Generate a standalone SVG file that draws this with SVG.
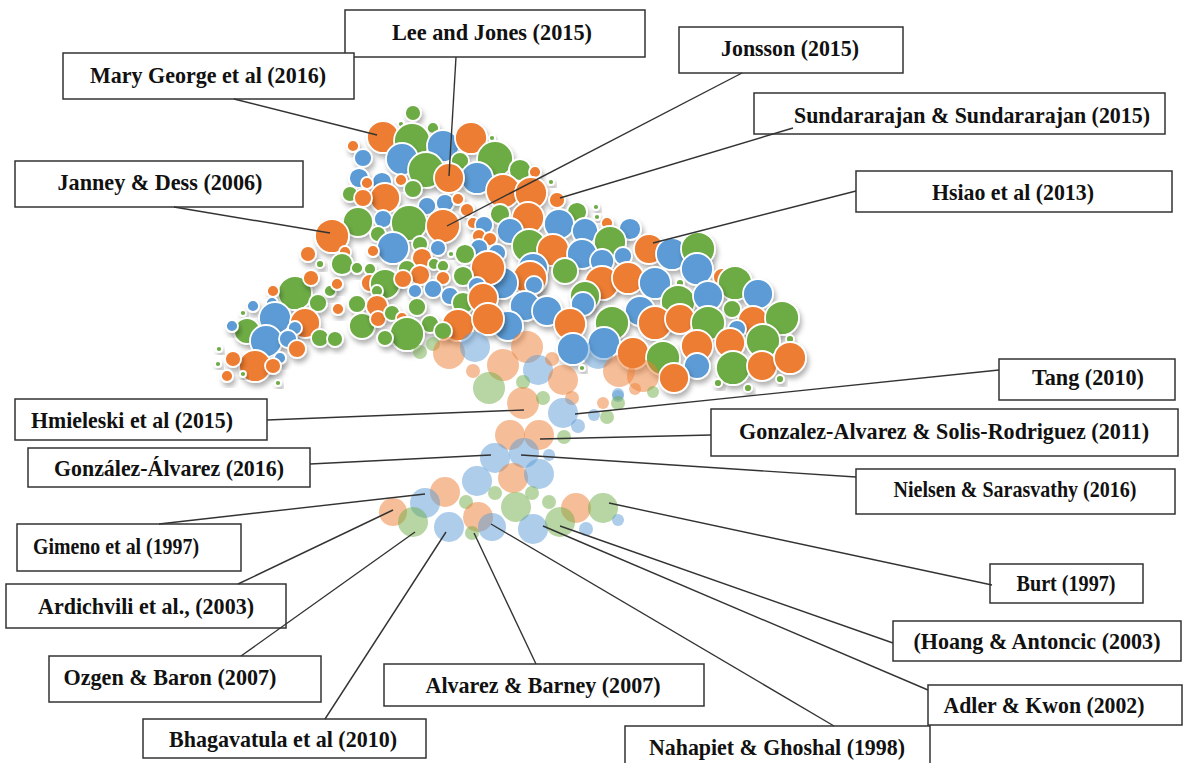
<svg xmlns="http://www.w3.org/2000/svg" width="1187" height="763" viewBox="0 0 1187 763">
<defs>
<filter id="sh" x="-40%" y="-40%" width="190%" height="190%">
<feDropShadow dx="2" dy="4" stdDeviation="2.5" flood-color="#000" flood-opacity="0.3"/>
</filter>
<style>
.o{fill:#ED7D31;stroke:#fff;stroke-width:1.8;filter:url(#sh)}
.b{fill:#5B9BD5;stroke:#fff;stroke-width:1.8;filter:url(#sh)}
.g{fill:#6DAC45;stroke:#fff;stroke-width:1.8;filter:url(#sh)}
.lo{fill:#ED7D31;fill-opacity:0.5}
.lb{fill:#5B9BD5;fill-opacity:0.5}
.lg{fill:#70AD47;fill-opacity:0.5}
.box{fill:#fff;stroke:#333;stroke-width:1.5}
.lbl{font-family:"Liberation Serif","Times New Roman",serif;font-weight:bold;font-size:23px;fill:#111;text-anchor:middle}
.con line{stroke:#333;stroke-width:1.4}
</style>
</defs>
<rect width="1187" height="763" fill="#fff"/>
<g id="bubbles">
<g id="dark">
<circle class="g" cx="413" cy="113" r="8"/>
<circle class="g" cx="401" cy="124" r="3"/>
<circle class="g" cx="433" cy="128" r="6"/>
<circle class="o" cx="383" cy="137" r="16"/>
<circle class="g" cx="412" cy="141" r="18"/>
<circle class="b" cx="443" cy="146" r="16"/>
<circle class="o" cx="471" cy="138" r="16"/>
<circle class="g" cx="492" cy="138" r="3"/>
<circle class="o" cx="353" cy="146" r="6"/>
<circle class="g" cx="495" cy="159" r="18"/>
<circle class="b" cx="402" cy="159" r="16"/>
<circle class="b" cx="363" cy="158" r="9"/>
<circle class="g" cx="460" cy="161" r="9"/>
<circle class="g" cx="426" cy="170" r="18"/>
<circle class="b" cx="477" cy="178" r="16"/>
<circle class="o" cx="449" cy="178" r="15"/>
<circle class="g" cx="520" cy="170" r="11"/>
<circle class="o" cx="535" cy="172" r="6"/>
<circle class="b" cx="359" cy="178" r="10"/>
<circle class="b" cx="382" cy="182" r="10"/>
<circle class="o" cx="367" cy="183" r="6"/>
<circle class="o" cx="401" cy="180" r="6"/>
<circle class="g" cx="350" cy="194" r="8"/>
<circle class="o" cx="385" cy="198" r="15"/>
<circle class="o" cx="363" cy="198" r="9"/>
<circle class="g" cx="413" cy="189" r="9"/>
<circle class="o" cx="503" cy="191" r="17"/>
<circle class="o" cx="531" cy="193" r="16"/>
<circle class="g" cx="551" cy="182" r="3"/>
<circle class="o" cx="557" cy="200" r="8"/>
<circle class="g" cx="577" cy="212" r="10"/>
<circle class="g" cx="596" cy="207" r="3"/>
<circle class="g" cx="597" cy="217" r="3"/>
<circle class="o" cx="607" cy="223" r="6"/>
<circle class="b" cx="427" cy="206" r="9"/>
<circle class="b" cx="445" cy="203" r="9"/>
<circle class="o" cx="458" cy="199" r="6"/>
<circle class="g" cx="500" cy="214" r="10"/>
<circle class="g" cx="358" cy="222" r="15"/>
<circle class="b" cx="383" cy="219" r="9"/>
<circle class="g" cx="409" cy="223" r="18"/>
<circle class="o" cx="467" cy="210" r="7"/>
<circle class="o" cx="528" cy="218" r="16"/>
<circle class="b" cx="559" cy="224" r="15"/>
<circle class="b" cx="585" cy="231" r="13"/>
<circle class="b" cx="630" cy="229" r="11"/>
<circle class="b" cx="510" cy="231" r="13"/>
<circle class="o" cx="443" cy="226" r="17"/>
<circle class="o" cx="473" cy="223" r="6"/>
<circle class="b" cx="484" cy="225" r="9"/>
<circle class="o" cx="479" cy="236" r="7"/>
<circle class="o" cx="490" cy="239" r="7"/>
<circle class="b" cx="479" cy="248" r="9"/>
<circle class="b" cx="497" cy="253" r="9"/>
<circle class="g" cx="610" cy="242" r="16"/>
<circle class="o" cx="332" cy="236" r="17"/>
<circle class="g" cx="378" cy="234" r="8"/>
<circle class="b" cx="393" cy="248" r="16"/>
<circle class="g" cx="420" cy="244" r="8"/>
<circle class="o" cx="308" cy="254" r="8"/>
<circle class="o" cx="345" cy="252" r="6"/>
<circle class="o" cx="373" cy="251" r="6"/>
<circle class="g" cx="342" cy="264" r="11"/>
<circle class="b" cx="438" cy="248" r="8"/>
<circle class="o" cx="422" cy="258" r="10"/>
<circle class="g" cx="451" cy="254" r="3"/>
<circle class="g" cx="465" cy="254" r="10"/>
<circle class="g" cx="529" cy="246" r="17"/>
<circle class="o" cx="553" cy="250" r="16"/>
<circle class="b" cx="582" cy="254" r="15"/>
<circle class="b" cx="602" cy="261" r="12"/>
<circle class="b" cx="623" cy="256" r="9"/>
<circle class="o" cx="649" cy="249" r="15"/>
<circle class="b" cx="672" cy="254" r="16"/>
<circle class="g" cx="698" cy="249" r="17"/>
<circle class="b" cx="533" cy="268" r="15"/>
<circle class="g" cx="565" cy="271" r="13"/>
<circle class="o" cx="530" cy="278" r="17"/>
<circle class="b" cx="502" cy="283" r="16"/>
<circle class="o" cx="488" cy="268" r="17"/>
<circle class="b" cx="534" cy="285" r="9"/>
<circle class="g" cx="320" cy="264" r="4"/>
<circle class="g" cx="357" cy="268" r="6"/>
<circle class="g" cx="370" cy="269" r="6"/>
<circle class="o" cx="370" cy="283" r="9"/>
<circle class="g" cx="385" cy="284" r="15"/>
<circle class="g" cx="407" cy="269" r="9"/>
<circle class="o" cx="420" cy="275" r="10"/>
<circle class="g" cx="434" cy="264" r="6"/>
<circle class="g" cx="443" cy="266" r="6"/>
<circle class="o" cx="443" cy="278" r="7"/>
<circle class="g" cx="463" cy="276" r="10"/>
<circle class="o" cx="403" cy="279" r="9"/>
<circle class="b" cx="415" cy="291" r="7"/>
<circle class="b" cx="433" cy="289" r="9"/>
<circle class="b" cx="450" cy="296" r="9"/>
<circle class="b" cx="477" cy="286" r="9"/>
<circle class="g" cx="463" cy="303" r="11"/>
<circle class="o" cx="483" cy="298" r="15"/>
<circle class="o" cx="602" cy="283" r="17"/>
<circle class="o" cx="628" cy="278" r="16"/>
<circle class="b" cx="655" cy="283" r="16"/>
<circle class="b" cx="697" cy="269" r="16"/>
<circle class="o" cx="722" cy="277" r="9"/>
<circle class="g" cx="735" cy="283" r="17"/>
<circle class="b" cx="758" cy="294" r="15"/>
<circle class="g" cx="680" cy="283" r="4"/>
<circle class="g" cx="585" cy="296" r="15"/>
<circle class="b" cx="583" cy="304" r="12"/>
<circle class="g" cx="678" cy="302" r="17"/>
<circle class="b" cx="708" cy="296" r="15"/>
<circle class="g" cx="732" cy="309" r="9"/>
<circle class="b" cx="640" cy="311" r="15"/>
<circle class="b" cx="525" cy="306" r="15"/>
<circle class="b" cx="547" cy="311" r="15"/>
<circle class="g" cx="612" cy="323" r="17"/>
<circle class="o" cx="655" cy="323" r="17"/>
<circle class="o" cx="680" cy="319" r="15"/>
<circle class="g" cx="708" cy="323" r="17"/>
<circle class="o" cx="753" cy="321" r="15"/>
<circle class="g" cx="782" cy="318" r="17"/>
<circle class="b" cx="737" cy="329" r="9"/>
<circle class="o" cx="570" cy="324" r="16"/>
<circle class="b" cx="508" cy="326" r="15"/>
<circle class="o" cx="458" cy="325" r="16"/>
<circle class="g" cx="295" cy="293" r="17"/>
<circle class="o" cx="311" cy="278" r="8"/>
<circle class="o" cx="273" cy="291" r="6"/>
<circle class="b" cx="272" cy="303" r="6"/>
<circle class="g" cx="318" cy="303" r="9"/>
<circle class="g" cx="330" cy="291" r="6"/>
<circle class="o" cx="337" cy="284" r="6"/>
<circle class="o" cx="338" cy="309" r="6"/>
<circle class="g" cx="357" cy="304" r="9"/>
<circle class="g" cx="362" cy="326" r="13"/>
<circle class="g" cx="377" cy="291" r="6"/>
<circle class="o" cx="377" cy="306" r="11"/>
<circle class="o" cx="378" cy="319" r="8"/>
<circle class="g" cx="392" cy="313" r="8"/>
<circle class="o" cx="402" cy="318" r="6"/>
<circle class="g" cx="417" cy="307" r="9"/>
<circle class="g" cx="430" cy="324" r="9"/>
<circle class="g" cx="443" cy="331" r="9"/>
<circle class="o" cx="488" cy="319" r="16"/>
<circle class="g" cx="407" cy="334" r="17"/>
<circle class="b" cx="604" cy="343" r="16"/>
<circle class="b" cx="573" cy="349" r="16"/>
<circle class="o" cx="633" cy="353" r="16"/>
<circle class="g" cx="663" cy="358" r="17"/>
<circle class="o" cx="697" cy="346" r="16"/>
<circle class="o" cx="730" cy="343" r="15"/>
<circle class="g" cx="763" cy="341" r="17"/>
<circle class="g" cx="790" cy="339" r="4"/>
<circle class="b" cx="697" cy="366" r="13"/>
<circle class="o" cx="674" cy="378" r="15"/>
<circle class="g" cx="733" cy="368" r="17"/>
<circle class="o" cx="762" cy="366" r="15"/>
<circle class="o" cx="790" cy="358" r="16"/>
<circle class="g" cx="718" cy="383" r="4"/>
<circle class="g" cx="748" cy="388" r="4"/>
<circle class="g" cx="780" cy="379" r="4"/>
<circle class="g" cx="582" cy="368" r="3"/>
<circle class="g" cx="243" cy="313" r="3"/>
<circle class="b" cx="253" cy="306" r="6"/>
<circle class="b" cx="275" cy="318" r="16"/>
<circle class="g" cx="247" cy="331" r="13"/>
<circle class="b" cx="232" cy="326" r="6"/>
<circle class="o" cx="305" cy="323" r="15"/>
<circle class="b" cx="295" cy="328" r="7"/>
<circle class="b" cx="266" cy="341" r="16"/>
<circle class="b" cx="288" cy="339" r="9"/>
<circle class="g" cx="320" cy="338" r="9"/>
<circle class="g" cx="335" cy="339" r="8"/>
<circle class="g" cx="385" cy="338" r="8"/>
<circle class="o" cx="297" cy="349" r="9"/>
<circle class="b" cx="280" cy="358" r="6"/>
<circle class="o" cx="255" cy="366" r="16"/>
<circle class="o" cx="233" cy="359" r="8"/>
<circle class="o" cx="273" cy="366" r="8"/>
<circle class="o" cx="227" cy="376" r="6"/>
<circle class="g" cx="219" cy="349" r="3"/>
<circle class="g" cx="218" cy="364" r="3"/>
<circle class="g" cx="243" cy="374" r="3"/>
<circle class="g" cx="278" cy="383" r="3"/>
</g>
<g id="light">
<circle class="lg" cx="420" cy="352" r="7"/>
<circle class="lg" cx="433" cy="344" r="7"/>
<circle class="lo" cx="449" cy="353" r="16"/>
<circle class="lb" cx="475" cy="347" r="15"/>
<circle class="lo" cx="473" cy="371" r="7"/>
<circle class="lo" cx="503" cy="365" r="16"/>
<circle class="lo" cx="527" cy="347" r="16"/>
<circle class="lb" cx="538" cy="370" r="15"/>
<circle class="lo" cx="552" cy="359" r="7"/>
<circle class="lo" cx="563" cy="380" r="15"/>
<circle class="lb" cx="598" cy="354" r="15"/>
<circle class="lo" cx="619" cy="371" r="16"/>
<circle class="lo" cx="643" cy="376" r="16"/>
<circle class="lo" cx="635" cy="389" r="6"/>
<circle class="lb" cx="618" cy="394" r="6"/>
<circle class="lg" cx="653" cy="392" r="6"/>
<circle class="lg" cx="489" cy="388" r="16"/>
<circle class="lg" cx="523" cy="382" r="7"/>
<circle class="lo" cx="523" cy="403" r="16"/>
<circle class="lg" cx="543" cy="398" r="7"/>
<circle class="lo" cx="572" cy="398" r="7"/>
<circle class="lb" cx="563" cy="413" r="15"/>
<circle class="lb" cx="578" cy="426" r="7"/>
<circle class="lb" cx="594" cy="415" r="6"/>
<circle class="lg" cx="607" cy="417" r="7"/>
<circle class="lo" cx="603" cy="403" r="6"/>
<circle class="lb" cx="618" cy="396" r="6"/>
<circle class="lg" cx="618" cy="403" r="7"/>
<circle class="lo" cx="510" cy="435" r="15"/>
<circle class="lo" cx="539" cy="435" r="15"/>
<circle class="lg" cx="564" cy="437" r="7"/>
<circle class="lb" cx="495" cy="458" r="15"/>
<circle class="lb" cx="524" cy="453" r="15"/>
<circle class="lb" cx="549" cy="455" r="6"/>
<circle class="lo" cx="513" cy="478" r="15"/>
<circle class="lb" cx="539" cy="474" r="15"/>
<circle class="lb" cx="477" cy="481" r="15"/>
<circle class="lo" cx="445" cy="492" r="15"/>
<circle class="lb" cx="425" cy="503" r="15"/>
<circle class="lo" cx="393" cy="512" r="14"/>
<circle class="lg" cx="413" cy="522" r="15"/>
<circle class="lg" cx="466" cy="502" r="7"/>
<circle class="lg" cx="495" cy="493" r="7"/>
<circle class="lg" cx="516" cy="507" r="15"/>
<circle class="lg" cx="532" cy="493" r="7"/>
<circle class="lg" cx="549" cy="502" r="7"/>
<circle class="lo" cx="576" cy="508" r="15"/>
<circle class="lg" cx="603" cy="508" r="15"/>
<circle class="lb" cx="618" cy="520" r="6"/>
<circle class="lb" cx="449" cy="527" r="15"/>
<circle class="lo" cx="478" cy="517" r="15"/>
<circle class="lg" cx="472" cy="533" r="7"/>
<circle class="lb" cx="492" cy="527" r="14"/>
<circle class="lb" cx="533" cy="529" r="15"/>
<circle class="lg" cx="560" cy="522" r="15"/>
<circle class="lb" cx="586" cy="529" r="7"/>
</g>
</g>
<g id="n-lee"><rect class="box" x="345" y="10" width="300" height="47"/><text class="lbl" x="492" y="40" textLength="200" lengthAdjust="spacingAndGlyphs">Lee and Jones (2015)</text></g>
<g id="n-mary"><rect class="box" x="63" y="53" width="291" height="46"/><text class="lbl" x="208" y="83" textLength="236" lengthAdjust="spacingAndGlyphs">Mary George et al (2016)</text></g>
<g id="n-jonsson"><rect class="box" x="679" y="27" width="224" height="46"/><text class="lbl" x="790" y="56" textLength="138" lengthAdjust="spacingAndGlyphs">Jonsson (2015)</text></g>
<g id="n-sund"><rect class="box" x="754" y="93" width="411" height="41"/><text class="lbl" x="972" y="123" textLength="356" lengthAdjust="spacingAndGlyphs">Sundararajan &amp; Sundararajan (2015)</text></g>
<g id="n-hsiao"><rect class="box" x="856" y="171" width="316" height="41"/><text class="lbl" x="1013" y="200" textLength="162" lengthAdjust="spacingAndGlyphs">Hsiao et al (2013)</text></g>
<g id="n-janney"><rect class="box" x="15" y="161" width="288" height="46"/><text class="lbl" x="160" y="190" textLength="205" lengthAdjust="spacingAndGlyphs">Janney &amp; Dess (2006)</text></g>
<g id="n-tang"><rect class="box" x="999" y="359" width="176" height="41"/><text class="lbl" x="1088" y="385" textLength="112" lengthAdjust="spacingAndGlyphs">Tang (2010)</text></g>
<g id="n-hmieleski"><rect class="box" x="15" y="399" width="252" height="41"/><text class="lbl" x="132" y="428" textLength="202" lengthAdjust="spacingAndGlyphs">Hmieleski et al (2015)</text></g>
<g id="n-gas"><rect class="box" x="711" y="409" width="467" height="47"/><text class="lbl" x="944" y="439" textLength="410" lengthAdjust="spacingAndGlyphs">Gonzalez-Alvarez &amp; Solis-Rodriguez (2011)</text></g>
<g id="n-ga2016"><rect class="box" x="28" y="448" width="282" height="39"/><text class="lbl" x="169" y="476" textLength="230" lengthAdjust="spacingAndGlyphs">González-Álvarez (2016)</text></g>
<g id="n-nielsen"><rect class="box" x="856" y="469" width="319" height="45"/><text class="lbl" x="1015" y="497" textLength="243" lengthAdjust="spacingAndGlyphs">Nielsen &amp; Sarasvathy (2016)</text></g>
<g id="n-gimeno"><rect class="box" x="17" y="524" width="224" height="47"/><text class="lbl" x="116" y="554" textLength="166" lengthAdjust="spacingAndGlyphs">Gimeno et al (1997)</text></g>
<g id="n-burt"><rect class="box" x="990" y="564" width="153" height="39"/><text class="lbl" x="1066" y="591" textLength="99" lengthAdjust="spacingAndGlyphs">Burt (1997)</text></g>
<g id="n-ardichvili"><rect class="box" x="6" y="584" width="280" height="44"/><text class="lbl" x="146" y="614" textLength="216" lengthAdjust="spacingAndGlyphs">Ardichvili et al., (2003)</text></g>
<g id="n-hoang"><rect class="box" x="893" y="621" width="288" height="40"/><text class="lbl" x="1037" y="649" textLength="247" lengthAdjust="spacingAndGlyphs">(Hoang &amp; Antoncic (2003)</text></g>
<g id="n-ozgen"><rect class="box" x="49" y="656" width="272" height="46"/><text class="lbl" x="170" y="685" textLength="213" lengthAdjust="spacingAndGlyphs">Ozgen &amp; Baron (2007)</text></g>
<g id="n-alvarez"><rect class="box" x="384" y="664" width="320" height="42"/><text class="lbl" x="543" y="693" textLength="235" lengthAdjust="spacingAndGlyphs">Alvarez &amp; Barney (2007)</text></g>
<g id="n-adler"><rect class="box" x="928" y="685" width="254" height="40"/><text class="lbl" x="1044" y="713" textLength="201" lengthAdjust="spacingAndGlyphs">Adler &amp; Kwon (2002)</text></g>
<g id="n-bhaga"><rect class="box" x="143" y="719" width="283" height="39"/><text class="lbl" x="283" y="747" textLength="228" lengthAdjust="spacingAndGlyphs">Bhagavatula et al (2010)</text></g>
<g id="n-nahapiet"><rect class="box" x="625" y="726" width="305" height="40"/><text class="lbl" x="777" y="755" textLength="256" lengthAdjust="spacingAndGlyphs">Nahapiet &amp; Ghoshal (1998)</text></g>
<g id="connectors" class="con">
<line x1="234" y1="99" x2="377" y2="135"/>
<line x1="456" y1="57" x2="449" y2="176"/>
<line x1="174" y1="207" x2="330" y2="233"/>
<line x1="742" y1="73" x2="447" y2="226"/>
<line x1="793" y1="128" x2="560" y2="198"/>
<line x1="856" y1="191" x2="653" y2="243"/>
<line x1="999" y1="370" x2="575" y2="414"/>
<line x1="267" y1="420" x2="524" y2="410"/>
<line x1="711" y1="435" x2="540" y2="439"/>
<line x1="310" y1="464" x2="491" y2="455"/>
<line x1="856" y1="477" x2="521" y2="455"/>
<line x1="159" y1="524" x2="425" y2="494"/>
<line x1="992" y1="585" x2="609" y2="503"/>
<line x1="238" y1="584" x2="393" y2="510"/>
<line x1="893" y1="643" x2="560" y2="526"/>
<line x1="241" y1="656" x2="415" y2="532"/>
<line x1="536" y1="664" x2="474" y2="533"/>
<line x1="928" y1="690" x2="543" y2="526"/>
<line x1="325" y1="719" x2="446" y2="532"/>
<line x1="834" y1="726" x2="491" y2="524"/>
</g>
</svg>
